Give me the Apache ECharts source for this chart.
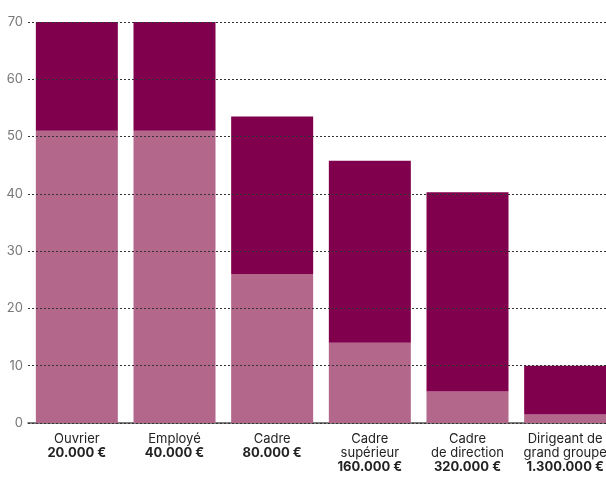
<!DOCTYPE html>
<html>
<head>
<meta charset="utf-8">
<script src="https://cdn.jsdelivr.net/npm/echarts@6/dist/echarts.min.js"></script>
<style>
  html, body { margin: 0; padding: 0; background: #fff; }
  #chart { width: 606px; height: 479px; }
</style>
</head>
<body>
<div id="chart"></div>
<script>
// catégories (nom + revenu)
const categories = ["Ouvrier", "Employé", "Cadre", "Cadre\nsupérieur", "Cadre\nde direction", "Dirigeant de\ngrand groupe"];
const revenus = ["20.000 €", "40.000 €", "80.000 €", "160.000 €", "320.000 €", "1.300.000 €"];
// partie claire (bas) et partie foncée (haut)
const partClaire = [51, 51, 26, 14, 5.5, 1.5];
const partFoncee = [19, 19, 27.5, 31.8, 34.8, 8.5];
const yTicks = [0, 10, 20, 30, 40, 50, 60, 70];

const chart = echarts.init(document.getElementById("chart"), null, { renderer: "canvas" });

const option = {
    backgroundColor: "#fff",
    animation: false,
    textStyle: { fontFamily: "Inter, 'Noto Sans', sans-serif" },
    grid: { left: 28, top: 22, bottom: 56, width: 586, containLabel: false, outerBoundsMode: "none" },
    xAxis: {
        type: "category",
        data: categories.map((c, i) => c + "\n{b|" + revenus[i] + "}"),
        axisTick: { show: false },
        axisLine: { lineStyle: { color: "#555", width: 1.5 } },
        axisLabel: {
            interval: 0,
            margin: 9,
            color: "#222",
            fontSize: 13,
            lineHeight: 14,
            hideOverlap: false,
            rich: { b: { fontWeight: "bold", fontSize: 13, color: "#222", lineHeight: 14 } }
        }
    },
    yAxis: {
        type: "value",
        min: yTicks[0],
        max: yTicks[yTicks.length - 1],
        interval: 10,
        z: 10,
        axisLine: { show: false },
        axisTick: { show: false },
        axisLabel: { color: "#777", fontSize: 13, margin: 5 },
        splitLine: { lineStyle: { color: "#333", type: [2, 2], width: 1 } }
    },
    series: [
        {
            name: "bas",
            type: "bar",
            stack: "total",
            barWidth: 82,
            data: partClaire,
            itemStyle: { color: "#b3688b" }
        },
        {
            name: "haut",
            type: "bar",
            stack: "total",
            barWidth: 82,
            data: partFoncee,
            itemStyle: { color: "#80004d" }
        }
    ]
};

chart.setOption(option);
</script>
</body>
</html>
